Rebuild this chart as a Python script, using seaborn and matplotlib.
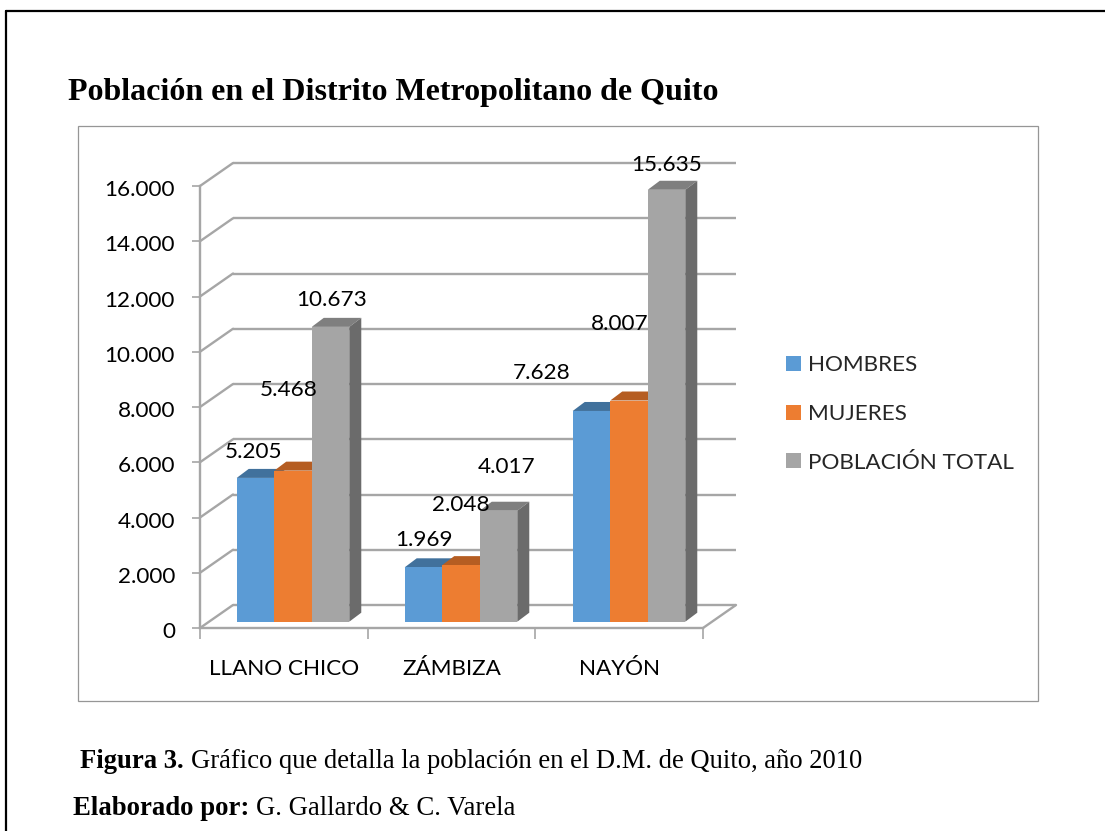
import pandas as pd
import seaborn as sns
import matplotlib.pyplot as plt
from matplotlib.lines import Line2D
from matplotlib.patches import ConnectionPatch, Polygon, Rectangle
from matplotlib.transforms import ScaledTranslation

# data
zonas = ['LLANO CHICO', 'ZÁMBIZA', 'NAYÓN']
hombres = [5205, 1969, 7628]
mujeres = [5468, 2048, 8007]
total = [10673, 4017, 15635]
series = ['HOMBRES', 'MUJERES', 'POBLACIÓN TOTAL']
y_ticks = [0, 2000, 4000, 6000, 8000, 10000, 12000, 14000, 16000]

W, H = 1105, 831
GREY = '#a6a6a6'
colors = ['#5b9bd5', '#ed7d31', '#a5a5a5']
top_colors = ['#41719c', '#b55d22', '#7f7f7f']
side_color = '#6b6b6b'
SANS = 'Lato'
SERIF = 'Liberation Serif'
LABEL_SIZE = 16.2


def fx(px):
    return px / W


def fy(py):
    return 1 - py / H


def add_axes(left, right, bottom, top):
    return fig.add_axes([fx(left), fy(bottom), (right - left) / W, (bottom - top) / H])


def miles(v):
    return f'{v:,}'.replace(',', '.')


def rich_text(x, y, bold, normal, size):
    t = fig.text(fx(x), fy(y), bold, family=SERIF, fontweight='bold', fontsize=size,
                 va='baseline', color='black')
    if normal:
        end = t.get_window_extent(fig.canvas.get_renderer()).x1
        fig.text(fx(end + 7), fy(y), normal, family=SERIF, fontsize=size,
                 va='baseline', color='black')


sns.set_theme(style='white')
plt.rcParams['font.family'] = [SANS, 'DejaVu Sans']

fig = plt.figure(figsize=(W / 100, H / 100), dpi=100, facecolor='white')

# page frame, only top and left are visible
fig.add_artist(Line2D([fx(6), fx(6)], [fy(11), 0], color='black', lw=1.6))
fig.add_artist(Line2D([fx(6), 1], [fy(11), fy(11)], color='black', lw=1.6))
fig.add_artist(Rectangle((fx(78), fy(701)), 960 / W, 575 / H, transform=fig.transFigure,
                         fill=False, edgecolor='#969696', lw=0.9))

rich_text(68, 100, 'Población en el Distrito Metropolitano de Quito', '', 23)
rich_text(80, 768, 'Figura 3.', 'Gráfico que detalla la población en el D.M. de Quito, año 2010', 19.2)
rich_text(73, 815, 'Elaborado por:', 'G. Gallardo & C. Varela', 19.3)

# three planes: back wall, front axis and the bars in between
ax_back = add_axes(233, 736, 605, 163)
ax_front = add_axes(200, 703, 628, 186)
ax_bars = add_axes(209, 713, 621.7, 179.7)

for ax in (ax_back, ax_front, ax_bars):
    ax.set_xlim(-0.5, 2.5)
    ax.set_ylim(0, 16000)
    ax.patch.set_alpha(0)

ax_back.axis('off')
for v in y_ticks:
    ax_back.plot([-0.5, 2.5], [v, v], color=GREY, lw=1.7, solid_capstyle='butt', clip_on=False)
    con = ConnectionPatch(xyA=(-0.5, v), coordsA=ax_front.transData, xyB=(-0.5, v),
                          coordsB=ax_back.transData, color=GREY, lw=1.7)
    ax_back.add_artist(con)
ax_back.add_artist(ConnectionPatch(xyA=(2.5, 0), coordsA=ax_front.transData, xyB=(2.5, 0),
                                   coordsB=ax_back.transData, color=GREY, lw=1.7))

sns.despine(ax=ax_front, top=True, right=True)
for side in ('left', 'bottom'):
    ax_front.spines[side].set_color(GREY)
    ax_front.spines[side].set_linewidth(1.7)
ax_front.set_yticks(y_ticks, [miles(v) if v else '0' for v in y_ticks])
ax_front.set_xticks([-0.5, 0.5, 1.5, 2.5], [])
ax_front.set_xticks([0, 1, 2], zonas, minor=True)
ax_front.tick_params(axis='y', length=6, width=1.2, color=GREY, pad=12,
                     labelsize=LABEL_SIZE, labelcolor='black', left=True)
ax_front.tick_params(axis='x', which='major', length=8, width=1.2, color=GREY, bottom=True)
ax_front.tick_params(axis='x', which='minor', length=0, pad=22,
                     labelsize=LABEL_SIZE, labelcolor='black')

# tick labels sit a little under their ticks
nudge = ScaledTranslation(0, -2 / 100, fig.dpi_scale_trans)
for label in ax_front.get_yticklabels():
    label.set_transform(label.get_transform() + nudge)

df = pd.DataFrame({'zona': zonas, series[0]: hombres, series[1]: mujeres, series[2]: total})
long_df = df.melt(id_vars='zona', var_name='serie', value_name='poblacion')
sns.barplot(data=long_df, x='zona', y='poblacion', hue='serie', hue_order=series,
            order=zonas, palette=colors, saturation=1, width=0.67, gap=0,
            edgecolor='none', linewidth=0, ax=ax_bars)
ax_bars.set_xlim(-0.5, 2.5)
ax_bars.set_ylim(0, 16000)
ax_bars.axis('off')

# bar depth: 12 px across, 9 px up
depth_x = 12 / 168
depth_y = 9 * 2000 / 55.25

# label offsets from the top centre of each bar, in pixels
label_offsets = [
    [(-1.5, 26), (0.5, 27), (-49.5, 38)],
    [(-4.5, 81), (0, 60), (-9, 77)],
    [(1, 27), (8.5, 44), (0, 25)],
]

for i, container in enumerate(ax_bars.containers):
    for j, bar in enumerate(container):
        x0 = bar.get_x()
        x1 = x0 + bar.get_width()
        h = bar.get_height()
        ax_bars.add_patch(Polygon([(x0, h), (x1, h), (x1 + depth_x, h + depth_y), (x0 + depth_x, h + depth_y)],
                                  facecolor=top_colors[i], edgecolor='none', zorder=0.9, clip_on=False))
        if i == 2:
            ax_bars.add_patch(Polygon([(x1, 0), (x1 + depth_x, depth_y), (x1 + depth_x, h + depth_y), (x1, h)],
                                      facecolor=side_color, edgecolor='none', zorder=0.9, clip_on=False))
        ax_bars.annotate(miles(int(h)), xy=((x0 + x1) / 2, h), xytext=label_offsets[i][j],
                         textcoords='offset pixels', ha='center', va='center',
                         fontsize=LABEL_SIZE, color='black', annotation_clip=False, zorder=5)

sns.move_legend(ax_bars, loc='center left', bbox_to_anchor=(fx(786), fy(414)),
                bbox_transform=fig.transFigure, title=None, frameon=False,
                fontsize=LABEL_SIZE, handlelength=0.65, handleheight=0.65,
                handletextpad=0.33, labelspacing=1.27, borderpad=0, borderaxespad=0)

fig.savefig('out.png', dpi=100)
